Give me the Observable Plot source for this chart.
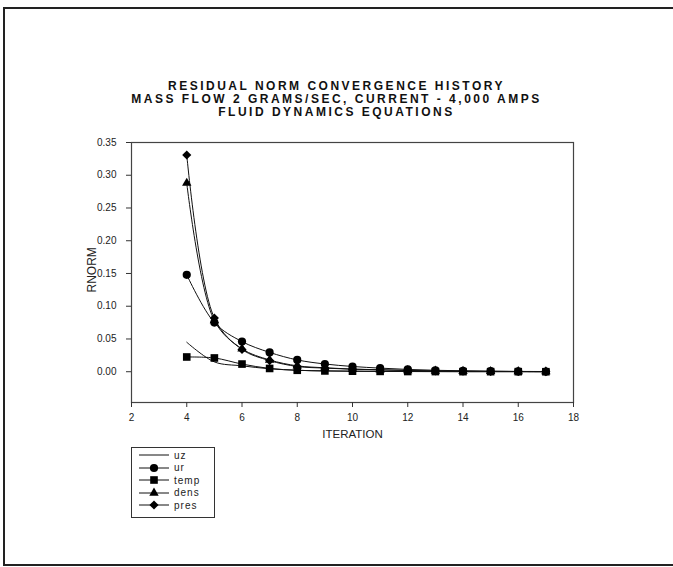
<!DOCTYPE html>
<html>
<head>
<meta charset="utf-8">
<script src="https://cdn.jsdelivr.net/npm/d3@7"></script>
<script src="https://cdn.jsdelivr.net/npm/@observablehq/plot@0.6"></script>
<style>
  html, body { margin: 0; padding: 0; background: #fff; overflow: hidden; }
  #wrap { position: relative; width: 673px; height: 567px; overflow: hidden; font-family: "Liberation Sans", Arial, sans-serif; }
  .bline { position: absolute; background: #222; }
  #title { position: absolute; left: 0; width: 673px; top: 80px; text-align: center; font-weight: bold; font-size: 12px; letter-spacing: 2.5px; line-height: 13px; color: #111; }
  #chart { position: absolute; left: 0; top: 0; }
  #legend { position: absolute; left: 131px; top: 447px; width: 82px; height: 69px; border: 1px solid #333; font-size: 10px; letter-spacing: 1px; color: #222; }
  .item { position: absolute; left: 0; height: 12px; display: flex; align-items: center; }
  .item svg { margin-left: 7px; }
  .item span { margin-left: 5px; }
</style>
</head>
<body>
<div id="wrap">
  <div class="bline" style="left:3px; top:7px; width:670px; height:2px;"></div>
  <div class="bline" style="left:3px; top:7px; width:2px; height:559px;"></div>
  <div class="bline" style="left:3px; top:564px; width:670px; height:2px;"></div>
  <div id="chart"></div>
  <div id="title"></div>
  <div id="legend"></div>
</div>
<script>
const titleLines = [
  "RESIDUAL NORM CONVERGENCE HISTORY",
  "MASS FLOW 2 GRAMS/SEC, CURRENT - 4,000 AMPS",
  "FLUID DYNAMICS EQUATIONS"
];
const xLabel = "ITERATION";
const yLabel = "RNORM";
const xTicks = [2, 4, 6, 8, 10, 12, 14, 16, 18];
const yTicks = [0, 0.05, 0.10, 0.15, 0.20, 0.25, 0.30, 0.35];

const iterations = [4, 5, 6, 7, 8, 9, 10, 11, 12, 13, 14, 15, 16, 17];
const uz   = [0.045, 0.015, 0.009, 0.0045, 0.0022, 0.0012, 0.0008, 0.0005, 0.0003, 0.0002, 0.0001, 0.0001, 0.0001, 0.0000];
const ur   = [0.148, 0.075, 0.046, 0.0295, 0.018, 0.0118, 0.008, 0.0055, 0.0035, 0.0022, 0.0014, 0.0009, 0.0005, 0.0003];
const temp = [0.0225, 0.021, 0.0117, 0.005, 0.0022, 0.0012, 0.0008, 0.0005, 0.0003, 0.0002, 0.0001, 0.0001, 0.0001, 0.0000];
const dens = [0.288, 0.078, 0.035, 0.018, 0.009, 0.006, 0.004, 0.003, 0.002, 0.0012, 0.0008, 0.0005, 0.0003, 0.0002];
const pres = [0.331, 0.082, 0.034, 0.017, 0.008, 0.0055, 0.0038, 0.0028, 0.0018, 0.0011, 0.0007, 0.0004, 0.0003, 0.0002];

const seriesNames = ["uz", "ur", "temp", "dens", "pres"];
const seriesValues = [uz, ur, temp, dens, pres];
const seriesSymbols = [null, "circle", "square", "triangle", "diamond2"];
const seriesR = [0, 4.1, 4.3, 3.5, 4.1];
const drawOrder = ["pres", "dens", "temp", "ur"];

const rows = [];
seriesNames.forEach((name, i) => {
  iterations.forEach((it, j) => rows.push({series: name, iteration: it, value: seriesValues[i][j]}));
});

const marks = [];
seriesNames.forEach((name) => {
  const d = rows.filter(r => r.series === name);
  marks.push(Plot.line(d, {x: "iteration", y: "value", stroke: "#111", strokeWidth: 1, curve: "catmull-rom"}));
});
drawOrder.forEach((name) => {
  const i = seriesNames.indexOf(name);
  const d = rows.filter(r => r.series === name);
  marks.push(Plot.dot(d, {x: "iteration", y: "value", symbol: () => seriesSymbols[i], r: seriesR[i], fill: "#000", stroke: "none"}));
});

const chart = Plot.plot({
  width: 673,
  height: 567,
  marginLeft: 131,
  marginRight: 100,
  marginTop: 142,
  marginBottom: 165,
  style: {fontFamily: "'Liberation Sans', Arial, sans-serif", background: "transparent", color: "#222"},
  x: {domain: [2, 18]},
  y: {domain: [-0.047, 0.35]},
  symbol: {type: "identity"},
  marks: [
    Plot.frame({stroke: "#444", strokeWidth: 1.2}),
    Plot.axisX({ticks: xTicks, tickSize: 5, tickPadding: 6, fontSize: 10, label: null, stroke: "#333", letterSpacing: "1px"}),
    Plot.axisY({ticks: yTicks, tickSize: 5, tickPadding: 10, fontSize: 10, label: null, tickFormat: d3.format(".2f"), stroke: "#333", letterSpacing: "1px"}),
    Plot.text([xLabel], {frameAnchor: "bottom", dy: 35, text: d => d, fontSize: 11.5, fill: "#222", letterSpacing: "1.8px"}),
    Plot.text([yLabel], {frameAnchor: "left", dx: -39, rotate: -90, text: d => d, fontSize: 12, fill: "#222", dy: 20, letterSpacing: "1.5px"}),
    ...marks
  ]
});
document.getElementById("chart").appendChild(chart);

document.getElementById("title").innerHTML = titleLines.map(t => `<div>${t}</div>`).join("");

// legend
const legend = document.getElementById("legend");
seriesNames.forEach((name, i) => {
  const item = document.createElement("div");
  item.className = "item";
  item.style.top = (1 + i * 12.6) + "px";
  const sym = seriesSymbols[i];
  let symPath = "";
  if (sym) {
    const typeMap = {circle: d3.symbolCircle, square: d3.symbolSquare, triangle: d3.symbolTriangle, diamond2: d3.symbolDiamond2};
    const size = Math.PI * seriesR[i] * seriesR[i];
    symPath = `<path transform="translate(15,6)" d="${d3.symbol(typeMap[sym], size)()}" fill="#000"/>`;
  }
  item.innerHTML = `<svg width="30" height="12"><line x1="0" x2="30" y1="6" y2="6" stroke="#111" stroke-width="1"/>${symPath}</svg><span>${name}</span>`;
  legend.appendChild(item);
});
</script>
</body>
</html>
